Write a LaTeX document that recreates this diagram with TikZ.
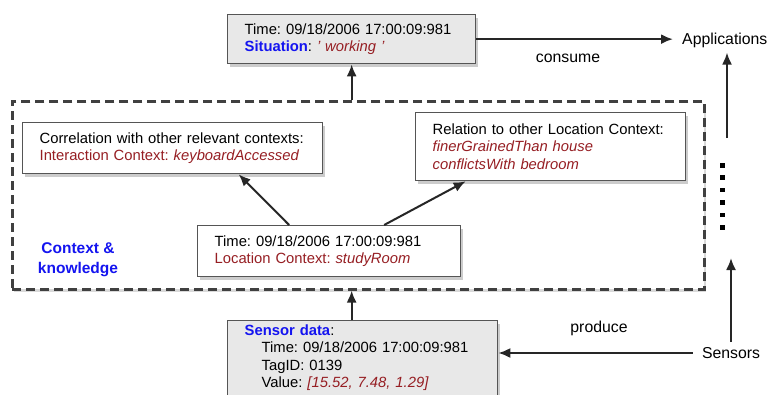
\documentclass[tikz,border=0pt]{standalone}
\usepackage{fontspec}
\setmainfont{Liberation Sans}
\usetikzlibrary{arrows.meta,shadows}
\definecolor{sitblue}{RGB}{20,20,240}
\definecolor{valred}{RGB}{150,30,35}
\definecolor{boxgray}{RGB}{232,232,232}
\definecolor{edgegray}{RGB}{85,85,85}
\tikzset{
  infobox/.style={draw=edgegray, line width=1.3pt, fill=white, anchor=north west,
    align=left, inner xsep=17pt, inner ysep=4pt,
    font=\fontsize{14.8}{17.5}\selectfont,
    drop shadow={opacity=0.4, shadow xshift=2pt, shadow yshift=-3pt}},
  arr/.style={-{Latex[length=12pt,width=10pt]}, line width=2pt, black!85},
  tag/.style={font=\fontsize{15.8}{19}\selectfont, inner xsep=9pt, inner ysep=5pt}
}
\frenchspacing
\begin{document}
\frenchspacing
\begin{tikzpicture}[x=1pt,y=-1pt]
\clip (0,0) rectangle (770,394);
% context and knowledge
\node[draw=black!75, line width=2.5pt, dash pattern=on 9pt off 5pt, fill=white,
  anchor=north west, minimum width=692pt, minimum height=188pt, inner sep=0,
  drop shadow={opacity=0.3, shadow xshift=2pt, shadow yshift=-3pt}] (ctx) at (11,100) {};
\node[font=\fontsize{15.5}{20}\selectfont\bfseries, text=sitblue, align=center] (ctxlabel) at (78,260) {Context \&\\knowledge};

\node[infobox, fill=boxgray, text width=214pt, minimum height=49pt] (sit) at (227,14)
  {Time: 09/18/2006 17:00:09:981\\
   \textcolor{sitblue}{\textbf{Situation}}: \textcolor{valred}{\itshape ' working '}};
\node[infobox, text width=266pt, minimum height=51pt] (corr) at (22,122)
  {Correlation with other relevant contexts:\\
   \textcolor{valred}{Interaction Context: \textit{keyboardAccessed}}};
\node[infobox, text width=236pt, minimum height=68pt] (rel) at (415,112)
  {Relation to other Location Context:\\
   \textcolor{valred}{\itshape finerGrainedThan house\\ conflictsWith bedroom}};
\node[infobox, text width=229pt, minimum height=51pt] (loc) at (197,225)
  {Time: 09/18/2006 17:00:09:981\\
   \textcolor{valred}{Location Context: \textit{studyRoom}}};
\node[infobox, fill=boxgray, text width=236pt] (sens) at (227,320)
  {\textcolor{sitblue}{\textbf{Sensor data}}:\\
   \hspace*{17pt}Time: 09/18/2006 17:00:09:981\\
   \hspace*{17pt}TagID: 0139\\
   \hspace*{17pt}Value: \textcolor{valred}{\itshape [15.52, 7.48, 1.29]}\\ \mbox{}};

\draw[arr] (ctx.north -| sit.south) -- (sit.south);
\draw[arr] (sens.north -| sit.south) -- (ctx.south -| sit.south);
\draw[arr] ([xshift=-40pt]loc.north) -- ([xshift=66pt]corr.south);
\draw[arr] ([xshift=55pt]loc.north) -- ([xshift=-85pt]rel.south);

% outside
\node[tag, anchor=west] (apps) at (673,40) {Applications};
\node[tag] (sensors) at (731,353) {Sensors};
\node[tag] (cons) at (568,58) {consume};
\node[tag] (prod) at (599,328) {produce};
\coordinate (gaptop) at (727,138);
\coordinate (gapbot) at (731,258);

\draw[arr] (sit.east) -- (sit.east -| apps.west);
\draw[arr] (sensors.west) -- (sensors.west -| sens.east);
\draw[arr] (sensors.north) -- (gapbot);
\draw[arr] (gaptop) -- (gaptop |- apps.south);
\foreach \k in {0,...,5}
  \fill (720,163+12.4*\k) rectangle ++(4.5,4.5);
\end{tikzpicture}
\end{document}
